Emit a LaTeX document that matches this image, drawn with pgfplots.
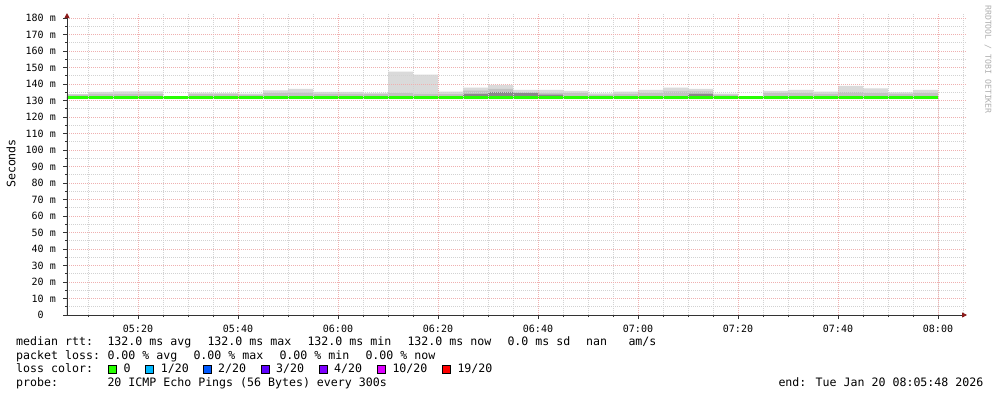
\documentclass[border=0pt]{standalone}
\usepackage{pgfplots}
\pgfplotsset{compat=1.18}
\usepackage{pgfplotstable}
\usetikzlibrary{arrows.meta}
\usepackage{fontspec}
\setmainfont{DejaVu Sans Mono}
\newfontfamily\mono{DejaVu Sans Mono}

\definecolor{smokeL}{HTML}{DADADA}
\definecolor{smokeM}{HTML}{C2C2C2}
\definecolor{smokeD}{HTML}{888888}
\definecolor{lossgreen}{HTML}{26FF00}
\definecolor{loss1}{HTML}{00B8FF}
\definecolor{loss2}{HTML}{0059FF}
\definecolor{loss3}{HTML}{5E00FF}
\definecolor{loss4}{HTML}{7E00FF}
\definecolor{loss10}{HTML}{DD00FF}
\definecolor{loss19}{HTML}{FF0000}
\definecolor{mgrid}{HTML}{EFB0B0}
\definecolor{ngrid}{HTML}{D2D2D2}
\definecolor{arrowred}{HTML}{8B1A1A}
\definecolor{axiscol}{HTML}{333333}

% x = minutes since 00:00 (interval start), top/mid/dark = smoke band tops (ms), low = smoke bottom
\pgfplotstableread{
x top mid dark low
305.8 133.8 133.6 132.0 131.9
310 135.3 134.0 132.0 131.9
315 135.6 134.0 132.0 131.9
320 135.6 134.0 132.0 131.9
325 132.0 132.0 132.0 131.9
330 134.8 133.8 132.0 131.9
335 134.5 133.8 132.0 131.9
340 134.2 133.5 132.0 131.9
345 136.1 134.5 132.0 131.9
350 137.0 134.8 132.0 131.9
355 135.2 134.0 132.0 131.9
360 135.2 134.0 132.0 131.9
365 134.6 133.8 132.0 131.9
370 147.5 134.5 132.0 131.9
375 145.7 134.0 132.0 131.9
380 135.4 133.8 132.0 131.9
385 137.8 136.0 134.0 131.9
390 139.4 137.0 135.0 131.9
395 136.4 135.0 134.5 131.9
400 136.4 134.5 133.5 131.9
405 135.8 134.5 132.0 131.9
410 134.3 133.5 132.0 131.9
415 135.4 134.0 132.0 131.9
420 136.4 134.5 132.0 131.9
425 137.8 135.5 132.0 131.9
430 137.0 135.5 134.0 131.9
435 134.1 133.5 132.0 131.9
440 132.0 132.0 132.0 131.9
445 135.8 134.5 132.0 131.9
450 136.4 134.5 132.0 131.9
455 135.4 134.0 132.0 131.9
460 138.8 135.0 132.0 131.9
465 137.4 134.5 132.0 131.9
470 134.9 134.0 132.0 131.9
475 136.4 134.5 132.0 131.9
480 136.4 134.5 132.0 131.9
}\smoke

\newcommand\legfont{\mono\fontsize{11.6}{14}\selectfont}

\begin{document}
\begin{tikzpicture}
\useasboundingbox (0,0) rectangle (997pt,397pt);
\fill[white] (0,0) rectangle (997pt,397pt);
\begin{axis}[
  at={(67pt,82pt)}, anchor=south west,
  scale only axis, width=900pt, height=301.95pt,
  xmin=305.8, xmax=485.8, ymin=0, ymax=183,
  enlargelimits=false,
  axis x line=bottom, axis y line=left,
  axis line style={axiscol, line width=0.8pt},
  x axis line style={-{Triangle[length=5pt,width=5pt,color=arrowred]}},
  y axis line style={-{Triangle[length=5pt,width=5pt,color=arrowred]}},
  grid=both,
  major grid style={mgrid, line width=0.7pt, dash pattern=on 1pt off 1pt},
  minor grid style={ngrid, line width=0.7pt, dash pattern=on 1pt off 1pt},
  xtick={320,340,...,480},
  xticklabels={05:20,05:40,06:00,06:20,06:40,07:00,07:20,07:40,08:00},
  minor xtick={310,315,325,330,335,345,350,355,365,370,375,385,390,395,405,410,415,425,430,435,445,450,455,465,470,475,485},
  ytick={0,10,...,180},
  yticklabels={0\phantom{\ m},10 m,20 m,30 m,40 m,50 m,60 m,70 m,80 m,90 m,100 m,110 m,120 m,130 m,140 m,150 m,160 m,170 m,180 m},
  minor ytick={5,15,...,175},
  tick align=outside,
  major tick length=4pt, minor tick length=2pt,
  tick style={axiscol, line width=0.8pt},
  ticklabel style={font=\mono\fontsize{10}{12}\selectfont, text=black},
  xticklabel style={inner sep=0pt, anchor=north, yshift=-5.7pt},
  yticklabel style={inner sep=0pt, anchor=east, xshift=-7pt},
  axis on top,
]
\addplot[draw=none, fill=smokeL, const plot] table[x=x,y=top]{\smoke} \closedcycle;
\addplot[draw=none, fill=smokeM, const plot] table[x=x,y=mid]{\smoke} \closedcycle;
\addplot[draw=none, fill=smokeD, const plot] table[x=x,y=dark]{\smoke} \closedcycle;
\addplot[draw=none, fill=white, const plot] table[x=x,y=low]{\smoke} \closedcycle;
\addplot[lossgreen, line width=2.8pt] coordinates {(305.8,132) (480,132)};
\end{axis}

% y label
\node[rotate=90, inner sep=0, font=\legfont] at (11pt,233.5pt) {Seconds};
% watermark
\node[rotate=-90, anchor=west, inner sep=0, text={rgb,255:red,175;green,175;blue,175}, font=\mono\fontsize{8.2}{9}\selectfont] at (988pt,392pt) {RRDTOOL / TOBI OETIKER};

% legend lines
\begin{scope}[every node/.style={anchor=base west, inner sep=0, font=\legfont}]
\node at (16pt,51.7pt) {median rtt:};
\node at (107.3pt,51.7pt) {132.0 ms avg};
\node at (207.3pt,51.7pt) {132.0 ms max};
\node at (307.3pt,51.7pt) {132.0 ms min};
\node at (407.3pt,51.7pt) {132.0 ms now};
\node at (507.3pt,51.7pt) {0.0 ms sd};
\node at (586pt,51.7pt) {nan};
\node at (628.3pt,51.7pt) {am/s};

\node at (16pt,38pt) {packet loss:};
\node at (107.3pt,38pt) {0.00 \% avg};
\node at (193.3pt,38pt) {0.00 \% max};
\node at (279.3pt,38pt) {0.00 \% min};
\node at (365.3pt,38pt) {0.00 \% now};

\node at (16pt,24.3pt) {loss color:};
\node at (123.3pt,24.3pt) {0};
\node at (160.7pt,24.3pt) {1/20};
\node at (218pt,24.3pt) {2/20};
\node at (276pt,24.3pt) {3/20};
\node at (334pt,24.3pt) {4/20};
\node at (392.3pt,24.3pt) {10/20};
\node at (457.3pt,24.3pt) {19/20};

\node at (16pt,10.3pt) {probe:};
\node at (107.3pt,10.3pt) {20 ICMP Echo Pings (56 Bytes) every 300s};
\node at (778.3pt,10.3pt) {end: Tue Jan 20 08:05:48 2026};
\end{scope}

\begin{scope}[draw=black, line width=0.8pt]
\filldraw[fill=lossgreen] (108.3pt,23.7pt) rectangle ++(8pt,8pt);
\filldraw[fill=loss1] (145.7pt,23.7pt) rectangle ++(8pt,8pt);
\filldraw[fill=loss2] (203.3pt,23.7pt) rectangle ++(8pt,8pt);
\filldraw[fill=loss3] (261pt,23.7pt) rectangle ++(8pt,8pt);
\filldraw[fill=loss4] (319.3pt,23.7pt) rectangle ++(8pt,8pt);
\filldraw[fill=loss10] (377.7pt,23.7pt) rectangle ++(8pt,8pt);
\filldraw[fill=loss19] (442.3pt,23.7pt) rectangle ++(8pt,8pt);
\end{scope}
\end{tikzpicture}
\end{document}
